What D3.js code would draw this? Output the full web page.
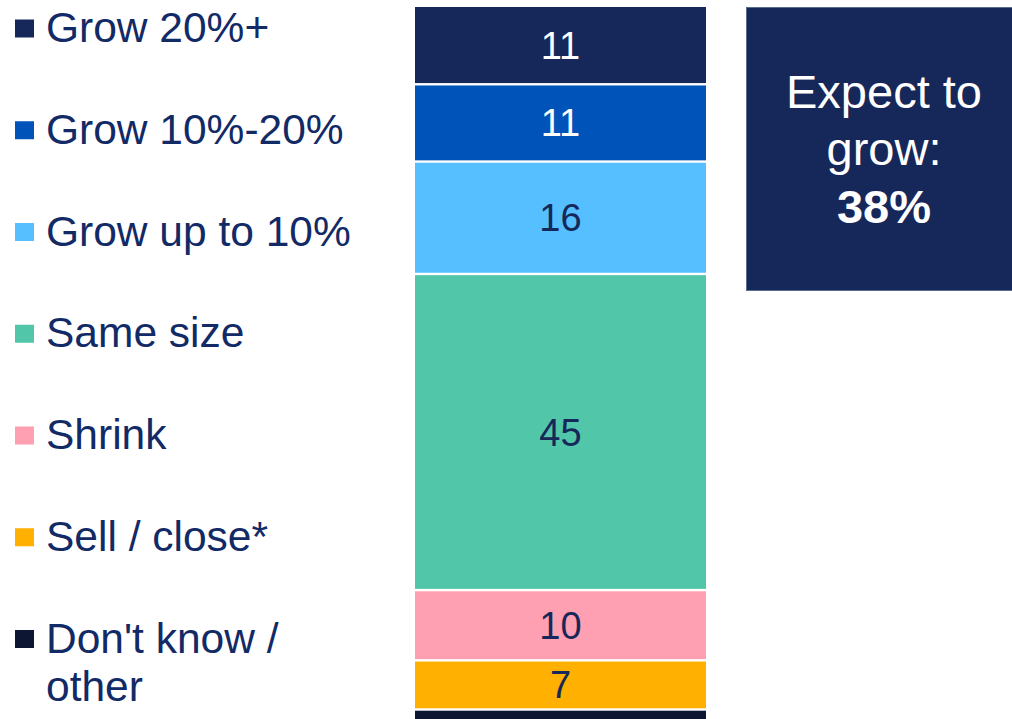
<!DOCTYPE html>
<html>
<head>
<meta charset="utf-8">
<script src="https://cdn.jsdelivr.net/npm/d3@7"></script>
<style>
  html, body { margin: 0; padding: 0; background: #ffffff; }
  svg { display: block; }
</style>
</head>
<body>
<svg id="chart" width="1012" height="719"></svg>
<script>
// Outlook for the business: share of respondents (%)
const categories = ["Grow 20%+", "Grow 10%-20%", "Grow up to 10%", "Same size", "Shrink", "Sell / close*", "Don't know / other"];
const values = [11, 11, 16, 45, 10, 7, 2];
const colors = ["#16285a", "#0053b8", "#55bfff", "#52c6a9", "#ff9fb2", "#ffb000", "#0d1733"];
const labelColors = ["#ffffff", "#ffffff", "#16285a", "#16285a", "#16285a", "#16285a", "#ffffff"];
const growthTitle = ["Expect to", "grow:"];
const growthTotal = values.slice(0, 3).reduce((a, b) => a + b, 0);

const FONT = "'Liberation Sans', Arial, Helvetica, sans-serif";
const svg = d3.select("#chart");

// Stack the segments top-down
let acc = 0;
const stacked = values.map((v, i) => {
  const d = { name: categories[i], value: v, y0: acc, y1: acc + v, i };
  acc += v;
  return d;
});

const y = d3.scaleLinear().domain([0, 100]).range([7, 709.5]);
const x = d3.scaleBand().domain(["all"]).range([415, 706]).padding(0);

const bar = svg.append("g");
bar.selectAll("rect")
  .data(stacked)
  .join("rect")
  .attr("x", x("all"))
  .attr("width", x.bandwidth())
  .attr("y", d => y(d.y0) + (d.i === 0 ? 0 : 1.2))
  .attr("height", d => y(d.y1) - y(d.y0) - (d.i === 0 ? 1.2 : 2.4))
  .attr("fill", d => colors[d.i]);

bar.selectAll("text")
  .data(stacked.filter(d => d.i < 6))
  .join("text")
  .attr("x", x("all") + x.bandwidth() / 2)
  .attr("y", d => (y(d.y0) + y(d.y1)) / 2 + 13.5)
  .attr("text-anchor", "middle")
  .attr("font-family", FONT)
  .attr("font-size", 38)
  .attr("fill", d => labelColors[d.i])
  .text(d => d.value);

// Legend
const legendRow = d3.scaleLinear().domain([0, 6]).range([28.5, 639]);
const legend = svg.append("g");
const items = legend.selectAll("g")
  .data(categories)
  .join("g")
  .attr("transform", (d, i) => `translate(0,${legendRow(i)})`);

items.append("rect")
  .attr("x", 15)
  .attr("y", -9)
  .attr("width", 19)
  .attr("height", 18)
  .attr("fill", (d, i) => colors[i]);

items.append("text")
  .attr("x", 46)
  .attr("y", 13.5)
  .attr("font-family", FONT)
  .attr("font-size", 42.5)
  .attr("fill", "#122a66")
  .each(function (d) {
    const t = d3.select(this);
    const lines = d === "Don't know / other" ? ["Don't know /", "other"] : [d];
    lines.forEach((ln, k) => {
      t.append("tspan").attr("x", 46).attr("dy", k === 0 ? 0 : 48).text(ln);
    });
  });

// Growth callout box
const box = svg.append("g");
box.append("rect")
  .attr("x", 746.5)
  .attr("y", 7.5)
  .attr("width", 276)
  .attr("height", 283)
  .attr("fill", "#16285a")
  .attr("stroke", "#5a6b8f")
  .attr("stroke-width", 1);

const boxCx = 746 + 276 / 2;
const boxText = box.append("text")
  .attr("text-anchor", "middle")
  .attr("font-family", FONT)
  .attr("font-size", 47)
  .attr("fill", "#ffffff");
boxText.append("tspan").attr("x", boxCx).attr("y", 108).text(growthTitle[0]);
boxText.append("tspan").attr("x", boxCx).attr("y", 165).text(growthTitle[1]);
boxText.append("tspan").attr("x", boxCx).attr("y", 223)
  .attr("font-weight", "bold")
  .text(growthTotal + "%");
</script>
</body>
</html>
